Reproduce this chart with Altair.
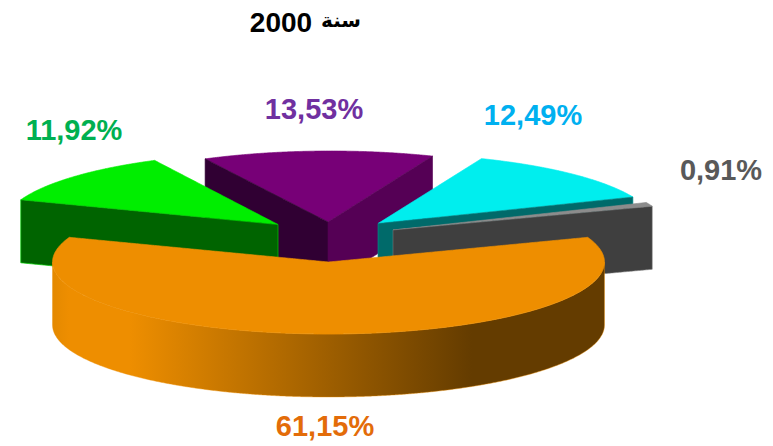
import math
import altair as alt
import pandas as pd

# --- chart values -----------------------------------------------------------
slices = ["orange", "green", "purple", "cyan", "gray"]
shares = [61.15, 11.92, 13.53, 12.49, 0.91]
labels = ["61,15%", "11,92%", "13,53%", "12,49%", "0,91%"]
title_year = "2000"
title_word = "سنة"

# --- styling / layout -------------------------------------------------------
label_colors = ["#E36C09", "#00B050", "#7030A0", "#00B0F0", "#595959"]
label_x = [325, 74, 314, 533, 721]
label_y = [426.5, 131, 110, 116, 171]
apex_x = [328.5, 278, 328, 378, 393]
apex_y = [262, 224.5, 222, 223.5, 230]
rim_dx = [0, 2, 2.5, 1.5, 0]
rim_dy = [0, 0, 1, 2, 1]
A, B, DEPTH = 276, 72, 63


def rim(i, t):
    r = math.radians(t)
    return (apex_x[i] + rim_dx[i] + A * math.cos(r), apex_y[i] + rim_dy[i] + B * math.sin(r))


def arc(i, t0, t1, n=90):
    return [rim(i, t0 + (t1 - t0) * k / n) for k in range(n + 1)]


def bands(poly):
    """Split a polygon into x / upper / lower rows for an area mark."""
    xs = {p[0] for p in poly}
    lo_x, hi_x = min(xs), max(xs)
    x = math.ceil(lo_x)
    while x < hi_x:
        xs.add(float(x))
        x += 1
    rows = []
    m = len(poly)
    for x in sorted(xs):
        ys = []
        for k in range(m):
            (x0, y0), (x1, y1) = poly[k], poly[(k + 1) % m]
            if min(x0, x1) <= x <= max(x0, x1):
                if x0 == x1:
                    ys += [y0, y1]
                else:
                    ys.append(y0 + (y1 - y0) * (x - x0) / (x1 - x0))
        if ys:
            rows.append({"x": x, "y": min(ys), "y2": max(ys)})
    return pd.DataFrame(rows)


xs = alt.X("x:Q", axis=None, scale=alt.Scale(domain=[8, 765], nice=False, zero=False))
ys = alt.Y("y:Q", axis=None, scale=alt.Scale(domain=[442, 8], nice=False, zero=False))


def face(poly, fill, stroke=None, sw=0.6):
    kw = dict(fill=fill, interpolate="linear", stroke=stroke or fill, strokeWidth=sw)
    return alt.Chart(bands(poly)).mark_area(**kw).encode(x=xs, y=ys, y2="y2:Q")


def wall(i, t):
    p = rim(i, t)
    a = (apex_x[i], apex_y[i])
    return [a, p, (p[0], p[1] + DEPTH), (a[0], a[1] + DEPTH)]


def top(i, t0, t1):
    return [(apex_x[i], apex_y[i])] + arc(i, t0, t1)


# slice angles, clockwise on screen, with the big slice centred at the front
start = 90 - shares[0] * 1.8
ang = [start]
for s in shares:
    ang.append(ang[-1] + s * 3.6)

orange_grad = alt.Gradient(
    gradient="linear", x1=0, x2=1, y1=0, y2=0,
    stops=[
        alt.GradientStop(color="#E48900", offset=0),
        alt.GradientStop(color="#EE8E00", offset=0.03),
        alt.GradientStop(color="#EE8E00", offset=0.14),
        alt.GradientStop(color="#643C00", offset=0.76),
        alt.GradientStop(color="#643C00", offset=1),
    ],
)

front = arc(0, 0, 180)
side = front + [(x, y + DEPTH) for x, y in reversed(front)]

layers = [
    # purple
    face(top(2, ang[2], ang[3]), "#770077"),
    face(wall(2, ang[2]), "#300033"),
    face(wall(2, ang[3]), "#550055"),
    # cyan
    face(top(3, ang[3], ang[4]), "#00EEEE"),
    face(wall(3, ang[4]), "#006A6A", "#009090"),
    # gray
    face(top(4, ang[4], ang[5]), "#8C8C8C"),
    face(wall(4, ang[5]), "#3F3F3F", "#808080", 0.5),
    # green
    face(top(1, ang[1], ang[2]), "#00EE00"),
    face(wall(1, ang[1]), "#006400", "#00D000", 0.7),
    # orange
    face(side, orange_grad, "#EE8E00", 0.4),
    face(top(0, ang[0], ang[1]), "#EE8E00"),
]

label_df = pd.DataFrame({"x": label_x, "y": label_y, "t": labels, "c": label_colors})
layers.append(
    alt.Chart(label_df)
    .mark_text(font="Liberation Sans", fontWeight="bold", fontSize=29, align="center", baseline="middle")
    .encode(x=xs, y=ys, text="t:N", color=alt.Color("c:N", scale=None, legend=None))
)
layers.append(
    alt.Chart(pd.DataFrame({"x": [281], "y": [24], "t": [title_year]}))
    .mark_text(font="Liberation Sans", fontWeight="bold", fontSize=28, align="center",
               baseline="middle", color="#000000")
    .encode(x=xs, y=ys, text="t:N")
)
layers.append(
    alt.Chart(pd.DataFrame({"x": [341], "y": [21], "t": [title_word]}))
    .mark_text(font="DejaVu Sans", fontWeight="bold", fontSize=20, align="center",
               baseline="middle", color="#000000")
    .encode(x=xs, y=ys, text="t:N")
)

chart = (
    alt.layer(*layers)
    .properties(width=757, height=434, padding=0, background="#FFFFFF",
                autosize=alt.AutoSizeParams(type="none"))
    .configure_view(stroke=None)
)
chart.save("out.html", embed_options={"renderer": "svg", "actions": False})
